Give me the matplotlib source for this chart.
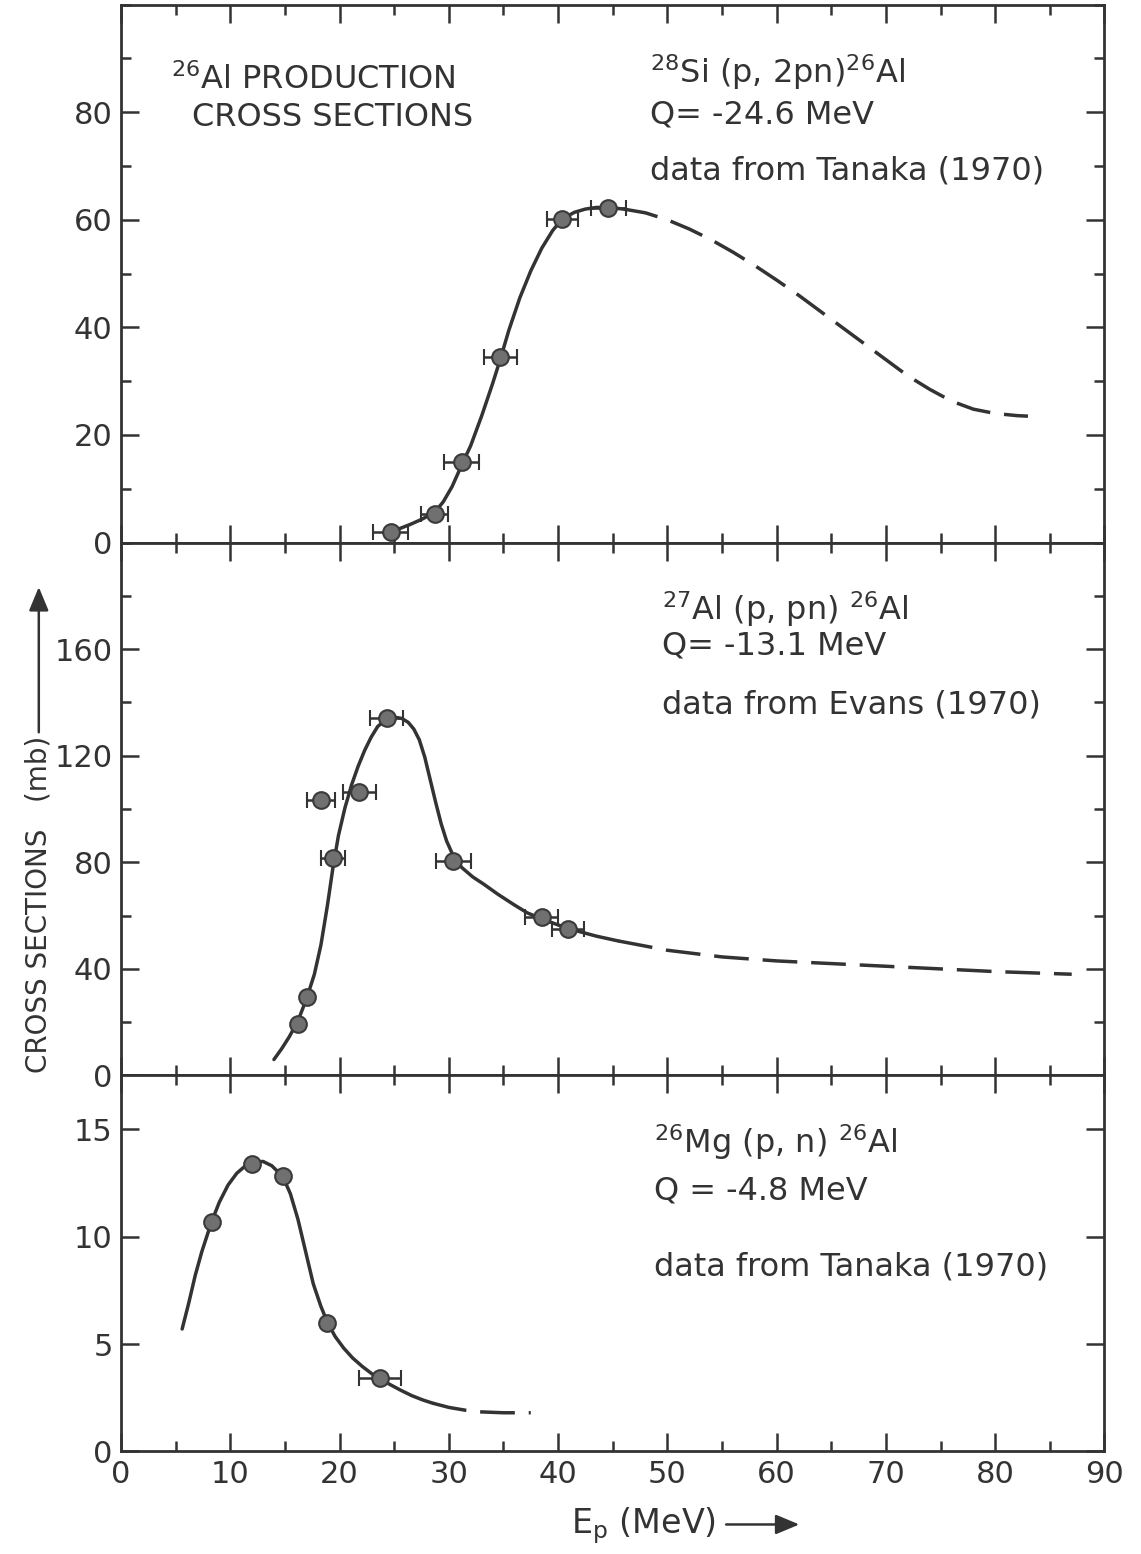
import matplotlib
matplotlib.use("Agg")
import matplotlib.pyplot as plt
from matplotlib.patches import FancyArrowPatch
from matplotlib.ticker import MultipleLocator

plt.rcParams["font.family"] = ["DejaVu Sans"]
plt.rcParams["mathtext.fontset"] = "dejavusans"

# --- 28Si(p,2pn)26Al, Tanaka (1970)
si_x = [24.7, 28.7, 31.2, 34.7, 40.4, 44.6]
si_y = [2.0, 5.4, 15.0, 34.5, 60.2, 62.2]
si_xerr = [1.6, 1.2, 1.6, 1.5, 1.4, 1.6]
si_fit_x = [24.7, 25.5, 26.5, 27.5, 28.7, 29.5, 30.3, 31.2, 32.0, 33.0, 34.0, 34.7,
            35.5, 36.5, 37.5, 38.5, 39.5, 40.4, 41.5, 42.5, 43.5, 44.6, 46.0]
si_fit_y = [2.0, 2.6, 3.4, 4.3, 5.6, 7.6, 10.4, 14.5, 18.0, 23.5, 29.5, 34.0,
            39.5, 45.5, 50.5, 54.7, 58.0, 60.2, 61.4, 62.0, 62.3, 62.3, 62.0]
si_ext_x = [46, 48, 50, 52, 54, 56, 58, 60, 62, 64, 66, 68, 70, 72, 74, 76, 78, 80, 82, 83]
si_ext_y = [62.0, 61.3, 60.0, 58.3, 56.3, 54.0, 51.5, 48.8, 46.0, 43.0, 40.0, 37.0,
            34.0, 31.0, 28.5, 26.3, 24.8, 24.0, 23.6, 23.5]

# --- 27Al(p,pn)26Al, Evans (1970)
al_x = [16.2, 17.0, 18.3, 19.4, 21.8, 24.3, 30.4, 38.5, 40.9]
al_y = [19.5, 29.5, 103.5, 81.5, 106.5, 134.0, 80.5, 59.5, 55.0]
al_xerr = [0, 0, 1.25, 1.1, 1.5, 1.5, 1.6, 1.5, 1.5]
al_fit_x = [14.0, 14.7, 15.4, 16.2, 17.0, 17.7, 18.3, 18.9, 19.4, 19.9, 20.5, 21.1,
            21.7, 22.3, 22.9, 23.5, 24.3, 25.0, 25.7, 26.3, 26.8, 27.3, 27.8, 28.3,
            28.8, 29.3, 29.8, 30.4, 31.2, 32.2, 33.2, 34.5, 36.0, 37.2, 38.5, 40.0,
            41.5, 43.5, 45.5]
al_fit_y = [6.0, 10.0, 14.5, 20.5, 29.0, 38.0, 49.0, 64.0, 78.0, 90.0, 100.5, 109.0,
            116.0, 122.0, 127.0, 131.0, 133.8, 134.5, 134.0, 132.5, 130.0, 126.0, 119.5, 111.0,
            102.5, 94.5, 88.0, 82.5, 78.0, 74.5, 71.8, 68.0, 64.0, 61.0, 58.8, 56.5,
            54.5, 52.3, 50.5]
al_ext_x = [45.5, 50, 55, 60, 65, 70, 75, 80, 87]
al_ext_y = [50.5, 47.0, 44.5, 43.0, 42.0, 41.0, 40.0, 39.0, 38.0]

# --- 26Mg(p,n)26Al, Tanaka (1970)
mg_x = [8.3, 12.0, 14.8, 18.9, 23.7]
mg_y = [10.7, 13.4, 12.8, 6.0, 3.4]
mg_xerr = [0, 0, 0, 0, 1.95]
mg_fit_x = [5.6, 6.2, 6.8, 7.4, 8.3, 9.0, 9.8, 10.6, 11.4, 12.2, 13.0, 13.8, 14.8,
            15.5, 16.2, 16.9, 17.6, 18.3, 18.9, 19.6, 20.4, 21.2, 22.1, 23.0, 23.7,
            24.6, 25.6, 26.6, 27.6, 28.5]
mg_fit_y = [5.7, 6.9, 8.2, 9.3, 10.7, 11.6, 12.4, 12.95, 13.3, 13.45, 13.5, 13.3, 12.8,
            12.0, 10.8, 9.3, 7.8, 6.75, 6.0, 5.35, 4.8, 4.35, 3.95, 3.6, 3.38,
            3.12, 2.85, 2.6, 2.4, 2.25]
mg_ext_x = [28.5, 30, 31.5, 33, 35, 37.5]
mg_ext_y = [2.25, 2.05, 1.92, 1.84, 1.8, 1.8]

fig, axes = plt.subplots(3, 1, figsize=(11.41, 15.54), dpi=100, sharex=True,
                         gridspec_kw={"height_ratios": [538, 533, 376], "hspace": 0})
fig.subplots_adjust(left=0.106, right=0.968, top=0.997, bottom=0.066)

panels = [
    (axes[0], si_x, si_y, si_xerr, si_fit_x, si_fit_y, si_ext_x, si_ext_y, 100, 10),
    (axes[1], al_x, al_y, al_xerr, al_fit_x, al_fit_y, al_ext_x, al_ext_y, 200, 20),
    (axes[2], mg_x, mg_y, mg_xerr, mg_fit_x, mg_fit_y, mg_ext_x, mg_ext_y, 17.5, 5),
]

for ax, x, y, xerr, fx, fy, ex, ey, ytop, ymin in panels:
    ax.plot(fx, fy, color="#333333", lw=2.5, solid_capstyle="round",
            solid_joinstyle="round")
    ax.plot(ex, ey, color="#333333", lw=2.5, dashes=[10, 4])
    ax.errorbar(x, y, xerr=xerr, fmt="o", ms=12, mfc="#707070", mec="#3a3a3a",
                mew=1.5, ecolor="#333333", elinewidth=1.8, capsize=6, capthick=1.8,
                zorder=5)
    ax.set_xlim(0, 90)
    ax.set_ylim(0, ytop)
    ax.xaxis.set_major_locator(MultipleLocator(10))
    ax.xaxis.set_minor_locator(MultipleLocator(5))
    ax.yaxis.set_minor_locator(MultipleLocator(ymin))
    ax.tick_params(which="both", direction="in", top=True, right=True,
                   width=1.8, color="#333333", labelsize=22, labelcolor="#333333")
    ax.tick_params(which="major", length=13, pad=6)
    ax.tick_params(which="minor", length=7)
    for s in ax.spines.values():
        s.set_linewidth(2.0)
        s.set_color("#333333")

axes[0].set_yticks([0, 20, 40, 60, 80])
axes[1].set_yticks([0, 40, 80, 120, 160])
axes[2].set_yticks([0, 5, 10, 15])

tx = dict(fontsize=23, color="#333333", va="center")
axes[0].text(4.6, 86.0, r"$^{26}$Al PRODUCTION", **tx)
axes[0].text(6.5, 79.0, "CROSS SECTIONS", **tx)
axes[0].text(48.4, 87.5, r"$^{28}$Si (p, 2pn)$^{26}$Al", **tx)
axes[0].text(48.4, 79.5, "Q= -24.6 MeV", **tx)
axes[0].text(48.4, 69.0, "data from Tanaka (1970)", **tx)

axes[1].text(49.5, 175, r"$^{27}$Al (p, pn) $^{26}$Al", **tx)
axes[1].text(49.5, 161, "Q= -13.1 MeV", **tx)
axes[1].text(49.5, 139, "data from Evans (1970)", **tx)

axes[2].text(48.8, 14.4, r"$^{26}$Mg (p, n) $^{26}$Al", **tx)
axes[2].text(48.8, 12.1, "Q = -4.8 MeV", **tx)
axes[2].text(48.8, 8.6, "data from Tanaka (1970)", **tx)

# axis labels with arrows
fig.text(0.034, 0.418, "CROSS SECTIONS   (mb)", rotation=90, fontsize=20,
         color="#333333", ha="center", va="center")
fig.patches.append(FancyArrowPatch(
    (0.034, 0.527), (0.034, 0.624), transform=fig.transFigure,
    arrowstyle="-|>,head_length=1.2,head_width=0.5", lw=1.8, color="#333333",
    mutation_scale=12))
fig.text(0.628, 0.018, r"E$_\mathrm{p}$ (MeV)", fontsize=24, color="#333333",
         ha="right", va="center")
fig.patches.append(FancyArrowPatch(
    (0.634, 0.019), (0.703, 0.019), transform=fig.transFigure,
    arrowstyle="-|>,head_length=1.2,head_width=0.5", lw=1.8, color="#333333",
    mutation_scale=12))

fig.savefig("out.png", dpi=100)
